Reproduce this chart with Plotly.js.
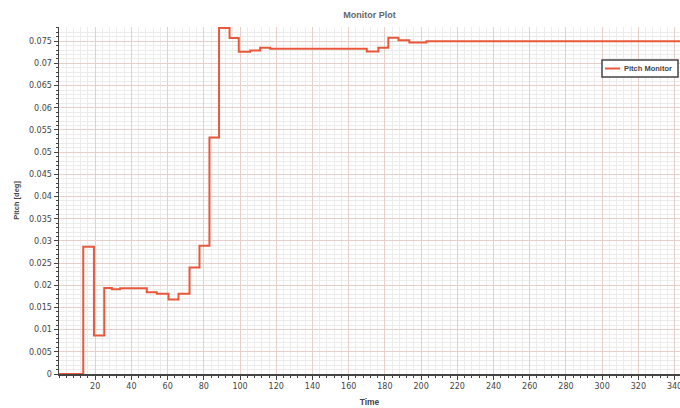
<!DOCTYPE html>
<html>
<head>
<meta charset="utf-8">
<script src="https://cdn.plot.ly/plotly-3.0.1.min.js"></script>
<style>html,body{margin:0;padding:0;background:#fff;}#chart{width:680px;height:408px;}</style>
</head>
<body>
<div id="chart"></div>
<script>
// Step start times and the pitch value held from each time onward
const times = [0, 13.4, 19.3, 25, 29.2, 33.8, 48.5, 54, 60.5, 66, 72.1, 77.6, 83.1, 88.4, 94.2, 99.3, 105.6, 111.1, 116.6, 170, 176.4, 181.9, 187.5, 193.5, 203, 343];
const pitch = [0, 0.0287, 0.0087, 0.0194, 0.0191, 0.0193, 0.0184, 0.0181, 0.0168, 0.0181, 0.0240, 0.0289, 0.0533, 0.0780, 0.0757, 0.0726, 0.0729, 0.0735, 0.0733, 0.0727, 0.0735, 0.0758, 0.0752, 0.0747, 0.0750, 0.0750];
const xTicks = [20, 40, 60, 80, 100, 120, 140, 160, 180, 200, 220, 240, 260, 280, 300, 320, 340];
const seriesName = 'Pitch Monitor';
const lineColor = '#e8583b';

const trace = {
  x: times, y: pitch, type: 'scatter', mode: 'lines', name: seriesName,
  line: {shape: 'hv', color: lineColor, width: 2}
};

const tickFont = {family: 'DejaVu Sans, sans-serif', size: 8, color: '#444'};
const boldFont = 'Liberation Sans, Arial, sans-serif';
const layout = {
  width: 680, height: 408,
  margin: {l: 59, r: 0, t: 27, b: 34},
  paper_bgcolor: '#fff', plot_bgcolor: '#fff',
  title: {text: 'Monitor Plot', x: 0.5435, xanchor: 'center', y: 0.964, yanchor: 'middle',
          font: {family: boldFont, size: 9, color: '#666', weight: 'bold'}},
  showlegend: false,
  xaxis: {
    range: [0, 343], tickvals: xTicks, ticktext: xTicks.map(String), ticklabeloverflow: 'allow',
    showline: true, linecolor: '#444', linewidth: 1.5,
    ticks: 'outside', ticklen: 4, tickcolor: '#444', tickfont: tickFont,
    showgrid: true, gridcolor: '#e8d0ca', gridwidth: 1, zeroline: false,
    minor: {dtick: 4, tick0: 0, ticks: 'outside', ticklen: 2, tickcolor: '#444', showgrid: true, gridcolor: '#ececec'},
    title: {text: 'Time', standoff: 9, font: {family: boldFont, size: 8.5, color: '#444', weight: 'bold'}},
    fixedrange: true
  },
  yaxis: {
    range: [0, 0.0782], dtick: 0.005, tick0: 0,
    showline: true, linecolor: '#444', linewidth: 1.5,
    ticks: 'outside', ticklen: 4, tickcolor: '#444', tickfont: tickFont,
    showgrid: true, gridcolor: '#e8d0ca', gridwidth: 1, zeroline: false,
    minor: {dtick: 0.001, tick0: 0, ticks: 'outside', ticklen: 2, tickcolor: '#444', showgrid: true, gridcolor: '#ececec'},
    title: {text: 'Pitch [deg]', standoff: 8, font: {family: boldFont, size: 7.5, color: '#444', weight: 'bold'}},
    fixedrange: true
  },
  // compact legend box (drawn in paper coordinates)
  shapes: [
    {type: 'rect', xref: 'paper', yref: 'paper', x0: 0.8744, x1: 0.9968, y0: 0.8559, y1: 0.9049,
     line: {color: '#444', width: 1.5}, fillcolor: '#fff', layer: 'above'},
    {type: 'line', xref: 'paper', yref: 'paper', x0: 0.8792, x1: 0.9034, y0: 0.8804, y1: 0.8804,
     line: {color: lineColor, width: 2}, layer: 'above'}
  ],
  annotations: [
    {text: seriesName, xref: 'paper', yref: 'paper', x: 0.9066, y: 0.8804, xanchor: 'left', yanchor: 'middle',
     showarrow: false, font: {family: boldFont, size: 7.5, color: '#444', weight: 'bold'}}
  ]
};

Plotly.newPlot('chart', [trace], layout, {displayModeBar: false, staticPlot: true});
</script>
</body>
</html>
